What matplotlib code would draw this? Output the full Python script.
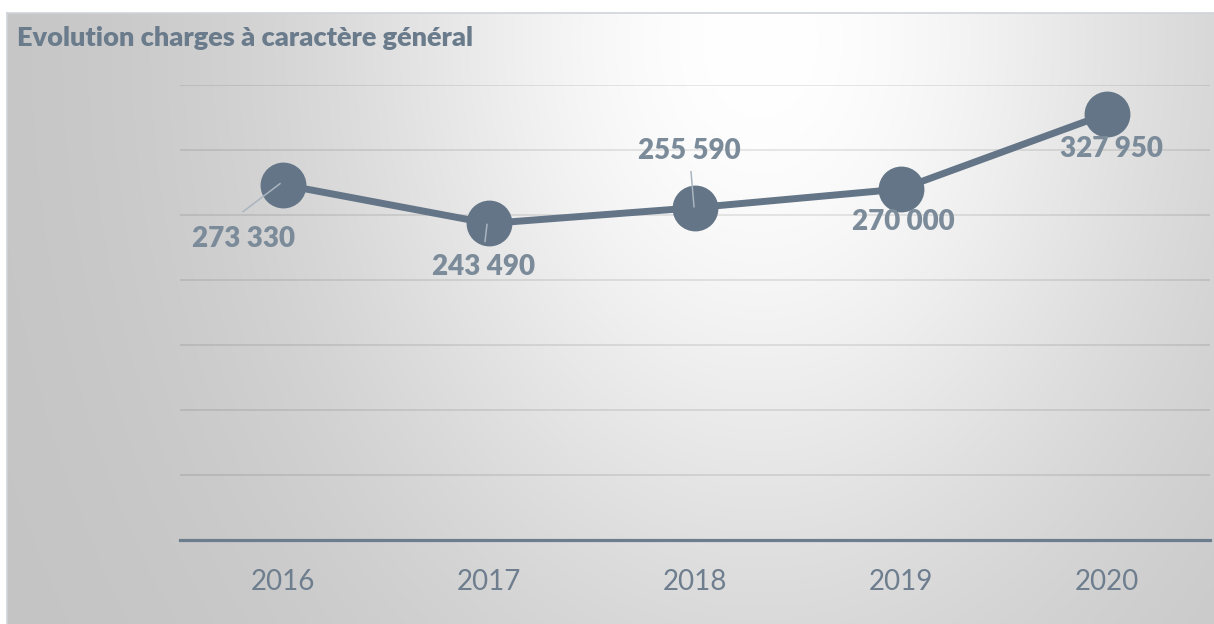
import numpy as np
import matplotlib
matplotlib.use("Agg")
import matplotlib.pyplot as plt
from matplotlib.lines import Line2D

# ---- data ----
years = ["2016", "2017", "2018", "2019", "2020"]
values = [273330, 243490, 255590, 270000, 327950]
value_labels = ["273 330", "243 490", "255 590", "270 000", "327 950"]
title = "Evolution charges à caractère général"

plt.rcParams['font.family'] = ['Lato', 'DejaVu Sans']

W, H = 1214, 624
fig = plt.figure(figsize=(W / 100, H / 100), dpi=100)
fig.patch.set_facecolor("white")

# ---- gradient background ----
bx0, by_top = 7, 13
bg = fig.add_axes([bx0 / W, 0, 1 - bx0 / W, 1 - by_top / H], zorder=-10)
gw, gh = W - bx0, H - by_top
xx, yy = np.meshgrid(np.arange(gw) + bx0, np.arange(gh) + by_top)
cx, cy = 760, 40
r = np.sqrt((xx - cx) ** 2 + ((yy - cy) * 0.75) ** 2)
drop = 60 * (1 - np.exp(-(r / 443.0) ** 2))
val = (255 - drop) / 255.0
img = np.dstack([val, val, val])
bg.imshow(img, aspect="auto", interpolation="bilinear", origin="upper")
bg.set_axis_off()
# thin border on top and left
fig.add_artist(Line2D([bx0 / W, 1], [1 - by_top / H, 1 - by_top / H],
                      transform=fig.transFigure, color="#cfd4d9", lw=1.2))
fig.add_artist(Line2D([bx0 / W, bx0 / W], [0, 1 - by_top / H],
                      transform=fig.transFigure, color="#cfd4d9", lw=1.2))

# ---- main axes ----
left, right, top, bottom = 180, 1210, 85, 540
ax = fig.add_axes([left / W, (H - bottom) / H, (right - left) / W, (bottom - top) / H])
ax.set_facecolor("none")
x = np.arange(len(years))
ax.set_xlim(-0.5, len(years) - 0.5)
ax.set_ylim(0, 350000)
for gy in range(50000, 350001, 50000):
    ax.axhline(gy, color="black", alpha=0.11, lw=1.1, zorder=1)
ax.axhline(0, color="#6c7d8e", lw=2.3, zorder=2, clip_on=False)

line_color = "#637587"
ax.plot(x, values, color=line_color, lw=5, zorder=3, solid_capstyle="round")
ax.plot(x, values, "o", color=line_color, markersize=32, zorder=4)

for s in ax.spines.values():
    s.set_visible(False)
ax.set_yticks([])
ax.set_xticks(x)
ax.set_xticklabels(years)
ax.tick_params(axis="x", length=0, pad=21, labelsize=20, labelcolor="#6e7e8e")

# ---- data labels (offsets in pixels) ----
label_offsets = [(-40, -54), (-5, -44), (-6, 57), (2, -33), (4, -35)]
leaders = {0: ((-40, -27), (-3, 1)), 1: ((-4, -18), (-2, -1)), 2: ((-4, 36), (-1, 1))}
for i, (xi, v, lab) in enumerate(zip(x, values, value_labels)):
    dx, dy = label_offsets[i]
    ax.annotate(lab, (xi, v), xytext=(dx, dy), textcoords="offset pixels",
                ha="center", va="center", fontsize=20, fontweight="heavy",
                color="#7b8b9a", zorder=6)
    if i in leaders:
        (sx, sy), (ex, ey) = leaders[i]
        px, py = ax.transData.transform((xi, v))
        inv = ax.transData.inverted()
        p1 = inv.transform((px + sx, py + sy))
        p2 = inv.transform((px + ex, py + ey))
        ax.plot([p1[0], p2[0]], [p1[1], p2[1]], color="#aab5c0", lw=1.1, zorder=5)

fig.text(17 / W, 1 - 38 / H, title, ha="left", va="center", fontsize=19.5,
         fontweight="heavy", color="#6a7b8c")

fig.savefig("out.png", dpi=100)
